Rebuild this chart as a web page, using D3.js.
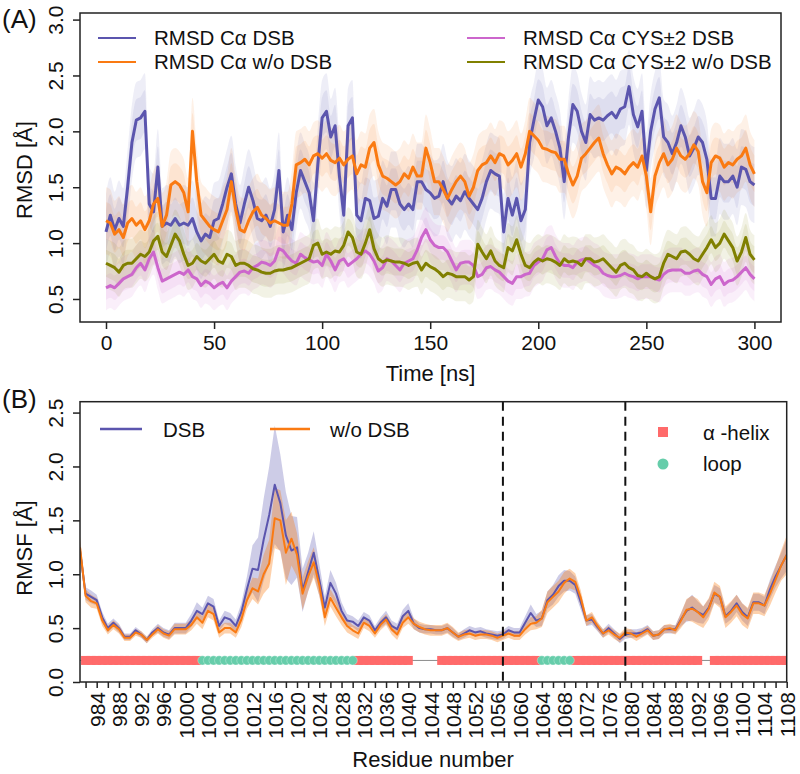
<!DOCTYPE html>
<html lang="en">
<head>
<meta charset="UTF-8">
<title>RMSD / RMSF</title>
<script src="https://d3js.org/d3.v7.min.js"></script>
<style>
  body { margin: 0; background: #fff; }
  text { font-family: "Liberation Sans", Arial, sans-serif; fill: #111; }
</style>
</head>
<body>
<script>

// ---------- panel A data: smoothed RMSD, sampled every 2 ns ----------
var timeNs = d3.range(0, 301, 2);

var rmsdDsb = [
  1.10,1.25,1.12,1.22,1.15,1.50,1.90,2.10,2.12,2.18,
  1.35,1.28,1.68,1.15,1.18,1.16,1.22,1.16,1.18,1.16,
  1.22,1.10,1.02,1.08,1.05,1.20,1.22,1.35,1.50,1.62,
  1.35,1.18,1.35,1.50,1.38,1.22,1.20,1.25,1.15,1.30,
  1.65,1.10,1.25,1.12,1.45,1.65,1.55,1.45,1.20,1.70,
  2.12,2.18,1.95,2.05,1.60,1.25,2.05,2.12,1.25,1.20,
  1.40,1.38,1.22,1.24,1.40,1.33,1.48,1.48,1.35,1.30,
  1.35,1.30,1.55,1.55,1.48,1.45,1.40,1.42,1.55,1.40,
  1.35,1.42,1.38,1.46,1.40,1.35,1.30,1.40,1.55,1.65,
  1.62,1.60,1.10,1.40,1.25,1.40,1.20,1.30,1.90,2.10,
  2.28,2.22,2.05,2.12,2.00,1.85,1.55,1.95,2.24,2.18,
  2.00,1.90,2.15,2.10,2.12,2.10,2.14,2.17,2.12,2.20,
  2.22,2.40,2.15,2.04,2.18,1.65,2.00,2.20,2.30,1.95,
  1.90,1.80,1.90,2.05,1.95,1.78,1.85,1.95,1.90,1.75,
  1.40,1.40,1.60,1.55,1.55,1.60,1.50,1.68,1.66,1.55,
  1.52];

var rmsdNoDsb = [
  1.20,1.18,1.08,1.12,1.05,1.18,1.22,1.16,1.20,1.12,
  1.20,1.35,1.40,1.15,1.25,1.52,1.55,1.52,1.45,1.28,
  2.00,1.55,1.25,1.20,1.15,1.12,1.10,1.20,1.30,1.55,
  1.30,1.12,1.10,1.20,1.28,1.32,1.25,1.22,1.18,1.20,
  1.18,1.16,1.16,1.35,1.70,1.72,1.75,1.70,1.78,1.80,
  1.76,1.80,1.74,1.72,1.76,1.70,1.75,1.78,1.62,1.70,
  1.68,1.85,1.90,1.70,1.60,1.58,1.55,1.52,1.55,1.62,
  1.58,1.68,1.60,1.60,1.85,1.72,1.55,1.55,1.48,1.40,
  1.48,1.55,1.60,1.55,1.42,1.50,1.65,1.70,1.72,1.78,
  1.72,1.80,1.78,1.70,1.74,1.80,1.68,1.80,2.00,1.96,
  1.92,1.85,1.84,1.82,1.81,1.75,1.75,1.62,1.52,1.60,
  1.76,1.80,1.85,1.90,1.94,1.80,1.70,1.62,1.68,1.66,
  1.62,1.68,1.72,1.68,1.78,1.60,1.28,1.60,1.72,1.80,
  1.70,1.75,1.85,1.78,1.75,1.80,1.88,1.82,1.55,1.45,
  1.72,1.78,1.76,1.68,1.72,1.70,1.75,1.78,1.85,1.70,
  1.62];

var rmsdCysDsb = [
  0.60,0.62,0.60,0.64,0.68,0.70,0.72,0.78,0.82,0.76,
  0.86,0.92,0.78,0.66,0.68,0.70,0.72,0.74,0.72,0.76,
  0.70,0.68,0.62,0.66,0.64,0.60,0.63,0.65,0.60,0.66,
  0.70,0.74,0.75,0.73,0.78,0.80,0.83,0.82,0.80,0.84,
  0.95,0.93,0.88,0.84,0.82,0.90,0.87,0.85,0.83,0.84,
  0.80,0.90,0.84,0.76,0.84,0.86,0.80,0.83,0.86,0.90,
  0.93,0.90,0.84,0.75,0.78,0.86,0.84,0.80,0.76,0.82,
  0.84,0.86,0.94,1.05,1.12,1.03,0.98,0.96,0.96,0.92,
  0.84,0.76,0.82,0.83,0.83,0.80,0.70,0.72,0.78,0.79,
  0.76,0.74,0.70,0.66,0.64,0.70,0.70,0.72,0.73,0.80,
  0.83,0.86,0.94,0.96,0.88,0.82,0.80,0.80,0.78,0.83,
  0.85,0.86,0.83,0.80,0.78,0.73,0.71,0.70,0.70,0.71,
  0.73,0.71,0.70,0.68,0.70,0.70,0.70,0.68,0.67,0.72,
  0.75,0.76,0.76,0.76,0.73,0.73,0.75,0.76,0.72,0.70,
  0.63,0.68,0.70,0.63,0.66,0.67,0.70,0.74,0.78,0.72,
  0.68];

var rmsdCysNoDsb = [
  0.82,0.80,0.78,0.74,0.80,0.82,0.82,0.86,0.90,0.88,
  0.92,1.02,1.06,0.92,0.88,0.98,1.08,1.02,0.90,0.80,
  0.82,0.88,0.84,0.82,0.86,0.90,0.84,0.82,0.90,0.88,
  0.80,0.82,0.82,0.80,0.77,0.76,0.74,0.73,0.73,0.75,
  0.76,0.76,0.77,0.78,0.80,0.82,0.84,0.86,0.98,1.00,
  0.90,0.92,0.90,0.93,0.92,0.98,1.10,1.05,0.92,0.90,
  1.00,1.12,0.95,0.86,0.83,0.85,0.84,0.83,0.83,0.82,
  0.80,0.82,0.83,0.76,0.82,0.79,0.77,0.74,0.70,0.73,
  0.72,0.70,0.70,0.70,0.67,0.70,0.99,0.92,0.86,0.93,
  0.84,0.80,0.78,0.96,0.93,1.03,0.90,0.80,0.78,0.83,
  0.86,0.84,0.86,0.85,0.83,0.80,0.86,0.83,0.84,0.83,
  0.80,0.86,0.86,0.83,0.84,0.86,0.82,0.78,0.74,0.80,
  0.82,0.78,0.76,0.71,0.70,0.73,0.70,0.68,0.70,0.82,
  0.90,0.88,0.86,0.92,0.93,0.90,0.86,0.84,0.90,0.96,
  1.03,0.96,1.00,1.08,1.02,0.96,0.84,0.92,1.05,0.90,
  0.85];

// half-width of the raw-frame scatter around each smoothed line
var cloudSpread = [0.34, 0.30, 0.20, 0.22];
var rmsdNames = ["RMSD C\u03b1 DSB", "RMSD C\u03b1 w/o DSB", "RMSD C\u03b1 CYS\u00b12 DSB", "RMSD C\u03b1 CYS\u00b12 w/o DSB"];
var rmsdTicksX = [0, 50, 100, 150, 200, 250, 300];
var rmsdTicksY = [0.5, 1.0, 1.5, 2.0, 2.5, 3.0];

// ---------- panel B data: RMSF per residue 981..1108 ----------
var residues = d3.range(981, 1109);

var rmsfDsb = [
  1.22,0.82,0.79,0.76,0.60,0.50,0.55,0.50,0.42,0.42,
  0.48,0.44,0.39,0.46,0.50,0.46,0.44,0.50,0.50,0.50,
  0.57,0.66,0.63,0.73,0.70,0.52,0.60,0.58,0.52,0.65,
  0.86,1.05,1.04,1.32,1.55,1.83,1.66,1.36,1.22,1.25,
  0.85,1.02,1.20,0.95,0.69,0.92,0.82,0.66,0.57,0.56,
  0.52,0.60,0.57,0.48,0.55,0.60,0.52,0.49,0.61,0.66,
  0.54,0.50,0.49,0.49,0.48,0.48,0.50,0.46,0.42,0.45,
  0.48,0.46,0.47,0.45,0.44,0.43,0.44,0.48,0.46,0.46,
  0.55,0.64,0.57,0.59,0.76,0.81,0.89,0.94,0.94,0.90,
  0.74,0.57,0.58,0.51,0.45,0.50,0.45,0.40,0.44,0.45,
  0.45,0.46,0.49,0.43,0.44,0.49,0.49,0.49,0.58,0.66,
  0.69,0.65,0.62,0.69,0.82,0.79,0.61,0.66,0.73,0.65,
  0.60,0.74,0.74,0.71,0.86,0.98,1.08,1.18];

var rmsfNoDsb = [
  1.25,0.80,0.75,0.73,0.57,0.48,0.53,0.49,0.41,0.41,
  0.46,0.44,0.39,0.44,0.49,0.45,0.43,0.49,0.49,0.49,
  0.53,0.60,0.55,0.66,0.63,0.46,0.50,0.50,0.46,0.58,
  0.76,0.87,0.84,1.00,1.10,1.52,1.50,1.20,1.33,1.18,
  0.82,0.98,1.11,0.90,0.60,0.78,0.69,0.60,0.52,0.48,
  0.45,0.55,0.52,0.45,0.53,0.58,0.49,0.44,0.55,0.60,
  0.54,0.51,0.49,0.48,0.48,0.48,0.50,0.46,0.42,0.44,
  0.45,0.43,0.44,0.44,0.43,0.41,0.43,0.45,0.43,0.43,
  0.49,0.54,0.55,0.59,0.74,0.79,0.84,0.92,0.96,0.93,
  0.78,0.57,0.60,0.52,0.45,0.48,0.44,0.41,0.46,0.45,
  0.42,0.45,0.48,0.43,0.44,0.49,0.50,0.48,0.57,0.67,
  0.68,0.65,0.60,0.68,0.83,0.79,0.60,0.65,0.71,0.63,
  0.59,0.73,0.73,0.71,0.82,0.95,1.08,1.18];

var rmsfDsbSd = [
  0.08,0.06,0.06,0.05,0.05,0.04,0.04,0.04,0.03,0.03,
  0.03,0.03,0.03,0.03,0.04,0.04,0.04,0.05,0.05,0.05,
  0.06,0.08,0.06,0.07,0.07,0.05,0.06,0.06,0.06,0.08,
  0.12,0.22,0.30,0.38,0.45,0.55,0.45,0.40,0.32,0.28,
  0.20,0.18,0.20,0.15,0.10,0.12,0.10,0.08,0.06,0.05,
  0.05,0.05,0.05,0.04,0.05,0.06,0.05,0.05,0.06,0.07,
  0.05,0.04,0.04,0.04,0.04,0.04,0.04,0.04,0.03,0.04,
  0.04,0.04,0.04,0.04,0.04,0.04,0.04,0.04,0.04,0.04,
  0.06,0.08,0.06,0.07,0.08,0.09,0.10,0.10,0.09,0.08,
  0.07,0.05,0.05,0.04,0.04,0.04,0.04,0.04,0.04,0.04,
  0.04,0.04,0.04,0.04,0.04,0.04,0.04,0.04,0.06,0.10,
  0.12,0.10,0.08,0.08,0.08,0.08,0.07,0.08,0.08,0.08,
  0.08,0.08,0.08,0.08,0.09,0.10,0.12,0.15];

var rmsfNoDsbSd = [
  0.10,0.06,0.06,0.05,0.05,0.04,0.04,0.04,0.03,0.03,
  0.03,0.03,0.03,0.03,0.04,0.04,0.04,0.05,0.05,0.05,
  0.05,0.06,0.06,0.06,0.06,0.05,0.05,0.05,0.05,0.07,
  0.08,0.10,0.12,0.18,0.22,0.28,0.28,0.30,0.25,0.20,
  0.15,0.14,0.14,0.10,0.08,0.08,0.08,0.07,0.06,0.05,
  0.05,0.05,0.05,0.04,0.05,0.05,0.05,0.05,0.05,0.06,
  0.05,0.05,0.05,0.05,0.05,0.05,0.05,0.05,0.04,0.04,
  0.04,0.04,0.04,0.04,0.04,0.04,0.04,0.04,0.04,0.04,
  0.05,0.06,0.06,0.08,0.10,0.10,0.10,0.10,0.09,0.08,
  0.07,0.05,0.05,0.04,0.04,0.04,0.04,0.04,0.04,0.04,
  0.04,0.04,0.04,0.04,0.04,0.04,0.04,0.04,0.07,0.10,
  0.12,0.12,0.10,0.10,0.10,0.10,0.10,0.10,0.10,0.10,
  0.10,0.10,0.10,0.10,0.11,0.12,0.14,0.18];

// secondary structure segments
var ssStart = [982, 1003, 1031, 1046, 1064, 1070, 1095];
var ssEnd   = [1002, 1030, 1040, 1063, 1069, 1092, 1108];
var ssType  = ["helix", "loop", "helix", "helix", "loop", "helix", "helix"];
var cysResidues = [1057, 1079];
var rmsfTicksY = [0, 0.5, 1.0, 1.5, 2.0, 2.5];

// ---------- drawing ----------
var colDsb = "#5b55ae", colNoDsb = "#fa7a12", colCys = "#cc66cc", colCysNo = "#808000";
var rmsdColors = [colDsb, colNoDsb, colCys, colCysNo];
var helixCol = "#ff6a6a", loopCol = "#66cdaa";
var fontFam = "Liberation Sans, Arial, sans-serif";

var svg = d3.select("body").append("svg")
    .attr("width", 800)
    .attr("height", 774);

// ===== Panel A =====
var xA = d3.scaleLinear().domain([-12.03, 312.3]).range([80, 781]);
var yA = d3.scaleLinear().domain([0.294, 3.059]).range([322, 13]);

svg.append("clipPath").attr("id", "clipA")
    .append("rect").attr("x", 80).attr("y", 13).attr("width", 701).attr("height", 309);

var gA = svg.append("g").attr("clip-path", "url(#clipA)");
var seriesA = [rmsdDsb, rmsdNoDsb, rmsdCysDsb, rmsdCysNoDsb];

// scatter haze: a wide faint layer and a tighter denser one
[1, 0.55].forEach(function (k) {
    seriesA.forEach(function (vals, i) {
        var area = d3.area()
            .x(function (d, j) { return xA(timeNs[j]); })
            .y0(function (d) { return yA(d - cloudSpread[i] * k); })
            .y1(function (d) { return yA(d + cloudSpread[i] * k); })
            .curve(d3.curveMonotoneX);
        gA.append("path")
            .attr("d", area(vals))
            .attr("fill", rmsdColors[i])
            .attr("fill-opacity", 0.1);
    });
});

seriesA.forEach(function (vals, i) {
    var line = d3.line()
        .x(function (d, j) { return xA(timeNs[j]); })
        .y(function (d) { return yA(d); });
    gA.append("path")
        .attr("d", line(vals))
        .attr("fill", "none")
        .attr("stroke", rmsdColors[i])
        .attr("stroke-width", 3)
        .attr("stroke-linejoin", "round");
});

svg.append("rect").attr("x", 80).attr("y", 13).attr("width", 701).attr("height", 309)
    .attr("fill", "none").attr("stroke", "#222").attr("stroke-width", 1.5);

var axA = svg.append("g").attr("transform", "translate(0,322)")
    .call(d3.axisBottom(xA).tickValues(rmsdTicksX).tickSize(7).tickFormat(d3.format("d")));
axA.select(".domain").remove();
axA.selectAll(".tick line").attr("stroke", "#222").attr("stroke-width", 1.5);
axA.selectAll(".tick text").attr("font-size", 21).attr("y", 28).attr("dy", null)
    .attr("fill", "#111").attr("font-family", fontFam);

var ayA = svg.append("g").attr("transform", "translate(80,0)")
    .call(d3.axisLeft(yA).tickValues(rmsdTicksY).tickSize(7).tickFormat(d3.format(".1f")));
ayA.select(".domain").remove();
ayA.selectAll(".tick line").attr("stroke", "#222").attr("stroke-width", 1.5);
ayA.selectAll(".tick text").attr("font-size", 21).attr("x", null).attr("dy", null)
    .attr("text-anchor", "middle").attr("transform", "translate(-17,0) rotate(-90)")
    .attr("fill", "#111").attr("font-family", fontFam);

svg.append("text").attr("x", 430.5).attr("y", 381).attr("text-anchor", "middle")
    .attr("font-size", 22).text("Time [ns]");
svg.append("text").attr("transform", "translate(32,170) rotate(-90)").attr("text-anchor", "middle")
    .attr("font-size", 22).text("RMSD [\u00c5]");
svg.append("text").attr("x", 2).attr("y", 28).attr("font-size", 26).text("(A)");

// legend A
var legA = [[98, 38], [98, 62], [467, 38], [467, 62]];
rmsdNames.forEach(function (name, i) {
    var p = legA[i];
    svg.append("line").attr("x1", p[0]).attr("x2", p[0] + 38).attr("y1", p[1]).attr("y2", p[1])
        .attr("stroke", rmsdColors[i]).attr("stroke-width", 2);
    svg.append("text").attr("x", p[0] + 56).attr("y", p[1] + 7)
        .attr("font-size", 20.5).text(name);
});

// ===== Panel B =====
var xB = d3.scaleLinear().domain([981, 1108]).range([80, 786.7]);
var yB = d3.scaleLinear().domain([0, 2.601]).range([682, 401.7]);

svg.append("clipPath").attr("id", "clipB")
    .append("rect").attr("x", 80).attr("y", 401.7).attr("width", 706.7).attr("height", 280.3);
var gB = svg.append("g").attr("clip-path", "url(#clipB)");

function band(vals, sd) {
    return d3.area()
        .x(function (d, j) { return xB(residues[j]); })
        .y0(function (d, j) { return yB(d - sd[j]); })
        .y1(function (d, j) { return yB(d + sd[j]); })(vals);
}
gB.append("path").attr("d", band(rmsfDsb, rmsfDsbSd)).attr("fill", colDsb).attr("fill-opacity", 0.3);
gB.append("path").attr("d", band(rmsfNoDsb, rmsfNoDsbSd)).attr("fill", colNoDsb).attr("fill-opacity", 0.35);

var lineB = d3.line()
    .x(function (d, j) { return xB(residues[j]); })
    .y(function (d) { return yB(d); });
gB.append("path").attr("d", lineB(rmsfDsb)).attr("fill", "none")
    .attr("stroke", colDsb).attr("stroke-width", 2).attr("stroke-linejoin", "round");
gB.append("path").attr("d", lineB(rmsfNoDsb)).attr("fill", "none")
    .attr("stroke", colNoDsb).attr("stroke-width", 2).attr("stroke-linejoin", "round");

// cysteine markers
cysResidues.forEach(function (r) {
    svg.append("line").attr("x1", xB(r)).attr("x2", xB(r)).attr("y1", 401.7).attr("y2", 682)
        .attr("stroke", "#111").attr("stroke-width", 2).attr("stroke-dasharray", "9,6");
});

// secondary structure strip
var ssY = yB(0.2);
gB.append("line").attr("x1", xB(981)).attr("x2", xB(1108)).attr("y1", ssY).attr("y2", ssY)
    .attr("stroke", "#8c8c8c").attr("stroke-width", 1);
ssStart.forEach(function (s, k) {
    var rs = d3.range(s, ssEnd[k] + 1);
    if (ssType[k] === "helix") {
        gB.selectAll(null).data(rs).enter().append("rect")
            .attr("x", function (r) { return xB(r) - 4.5; })
            .attr("y", ssY - 4.5).attr("width", 9).attr("height", 9)
            .attr("fill", helixCol);
    }
});
ssStart.forEach(function (s, k) {
    var rs = d3.range(s, ssEnd[k] + 1);
    if (ssType[k] === "loop") {
        gB.selectAll(null).data(rs).enter().append("circle")
            .attr("cx", function (r) { return xB(r); })
            .attr("cy", ssY).attr("r", 4.6)
            .attr("fill", loopCol).attr("stroke", "#ffffff")
            .attr("stroke-width", 0.5).attr("stroke-opacity", 0.6);
    }
});

svg.append("rect").attr("x", 80).attr("y", 401.7).attr("width", 706.7).attr("height", 280.3)
    .attr("fill", "none").attr("stroke", "#222").attr("stroke-width", 1.5);

var axB = svg.append("g").attr("transform", "translate(0,682)")
    .call(d3.axisBottom(xB).tickValues(d3.range(982, 1109, 2)).tickSize(6)
        .tickFormat(function (d) { return (d - 984) % 4 === 0 ? d : ""; }));
axB.select(".domain").remove();
axB.selectAll(".tick line").attr("stroke", "#222").attr("stroke-width", 1.5);
axB.selectAll(".tick text").attr("font-size", 21).attr("y", null).attr("dy", null)
    .attr("text-anchor", "end").attr("transform", "translate(7.5,10) rotate(-90)")
    .attr("fill", "#111").attr("font-family", fontFam);

var ayB = svg.append("g").attr("transform", "translate(80,0)")
    .call(d3.axisLeft(yB).tickValues(rmsfTicksY).tickSize(7).tickFormat(d3.format(".1f")));
ayB.select(".domain").remove();
ayB.selectAll(".tick line").attr("stroke", "#222").attr("stroke-width", 1.5);
ayB.selectAll(".tick text").attr("font-size", 21).attr("x", null).attr("dy", null)
    .attr("text-anchor", "middle").attr("transform", "translate(-17,0) rotate(-90)")
    .attr("fill", "#111").attr("font-family", fontFam);

svg.append("text").attr("x", 433).attr("y", 767).attr("text-anchor", "middle")
    .attr("font-size", 22).text("Residue number");
svg.append("text").attr("transform", "translate(32,548) rotate(-90)").attr("text-anchor", "middle")
    .attr("font-size", 22).text("RMSF [\u00c5]");
svg.append("text").attr("x", 2).attr("y", 408).attr("font-size", 26).text("(B)");

// legend B
svg.append("line").attr("x1", 100).attr("x2", 142).attr("y1", 429).attr("y2", 429)
    .attr("stroke", colDsb).attr("stroke-width", 2.5);
svg.append("text").attr("x", 163).attr("y", 437).attr("font-size", 20.5).text("DSB");
svg.append("line").attr("x1", 270).attr("x2", 310).attr("y1", 429).attr("y2", 429)
    .attr("stroke", colNoDsb).attr("stroke-width", 2.5);
svg.append("text").attr("x", 330).attr("y", 437).attr("font-size", 20.5).text("w/o DSB");

svg.append("rect").attr("x", 658).attr("y", 427).attr("width", 10).attr("height", 10).attr("fill", helixCol);
svg.append("text").attr("x", 703).attr("y", 440).attr("font-size", 20.5).text("\u03b1 -helix");
svg.append("circle").attr("cx", 663).attr("cy", 464).attr("r", 5.5).attr("fill", loopCol);
svg.append("text").attr("x", 703).attr("y", 471).attr("font-size", 20.5).text("loop");

</script>
</body>
</html>
